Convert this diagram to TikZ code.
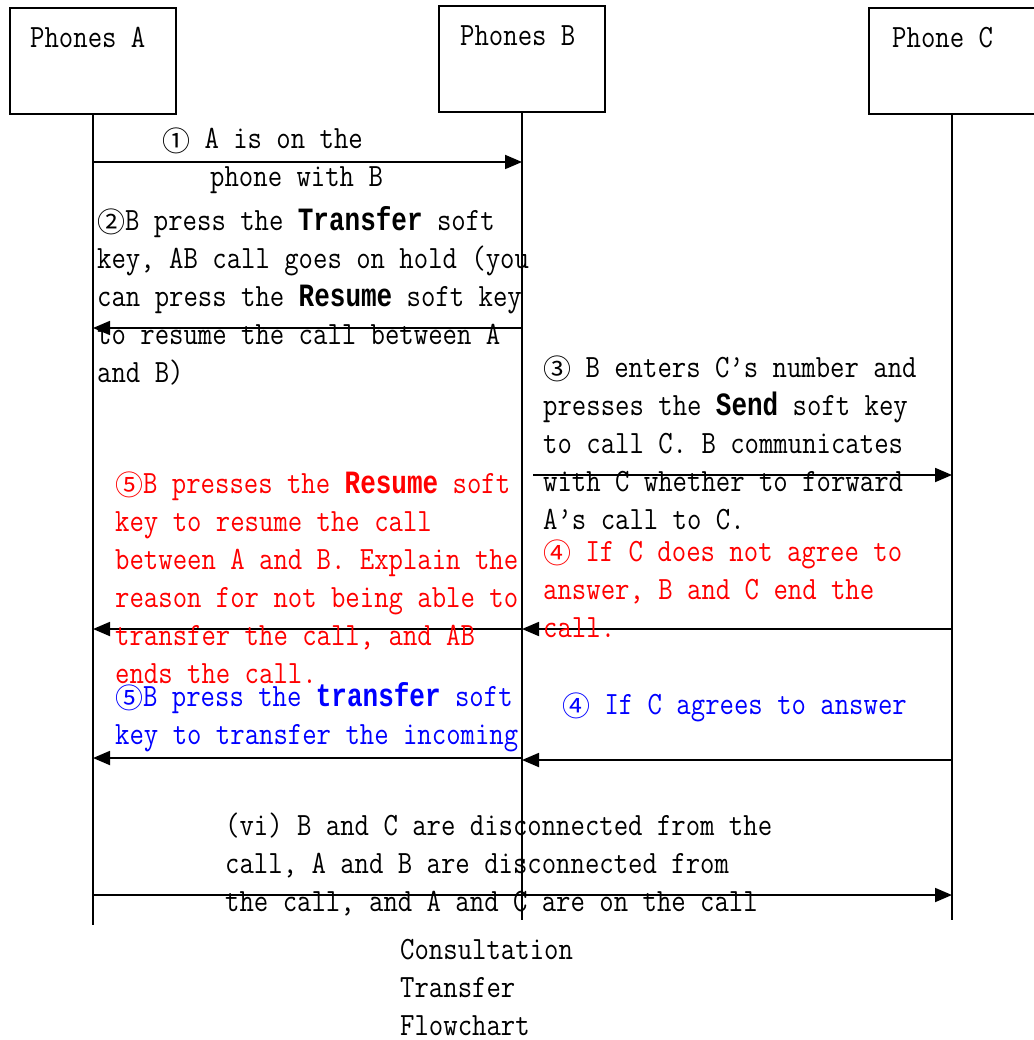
\documentclass[tikz,border=0pt]{standalone}
\usepackage{fontspec}
\newfontfamily\notefont{lmmono12-regular.otf}[FakeStretch=0.86]
\newfontfamily\circfont{Noto Sans CJK SC}[Scale=0.86]
\newfontfamily\keyfont{Liberation Mono}[FakeStretch=0.8]
\usetikzlibrary{arrows.meta}
\newcommand{\cnum}[1]{\raisebox{-2.5pt}{\circfont #1}}
\newcommand{\softkey}[1]{{\keyfont\bfseries #1}}

\tikzset{
  phone/.style={draw,line width=1.8pt,minimum width=166pt,minimum height=106pt,inner sep=0pt},
  life/.style={line width=1.8pt},
  msg/.style={line width=1.8pt,-{Triangle[length=17pt,width=14pt]}},
  note/.style={anchor=base west,inner sep=0pt,align=left},
}

\begin{document}
\begin{tikzpicture}[x=1pt,y=-1pt,font=\notefont\fontsize{32.5}{38}\selectfont\frenchspacing]
  \useasboundingbox (0,0) rectangle (1033,1040);
  % phones and lifelines
  \node[phone] (pa) at (93,61) {};
  \node[phone] (pb) at (522,59) {};
  \node[phone] (pc) at (952,61) {};
  \node[note] (pa-t) at (30,48) {Phones A};
  \node[note] (pb-t) at (460,46) {Phones B};
  \node[note] (pc-t) at (892,48) {Phone C};
  \coordinate (a-end) at (93,925);
  \coordinate (b-end) at (522,920);
  \coordinate (c-end) at (952,920);
  \draw[life] (pa.south) -- (a-end);
  \draw[life] (pb.south) -- (b-end);
  \draw[life] (pc.south) -- (c-end);

  % messages
  \draw[msg] (pa.south |- 0,162) -- (pb.south |- 0,162);
  \draw[msg] (pb.south |- 0,328) -- (pa.south |- 0,328);
  \draw[msg] ([xshift=11pt]pb.south |- 0,475) -- (pc.south |- 0,475);
  \draw[msg] (pc.south |- 0,629) -- (pb.south |- 0,629);
  \draw[msg] (pb.south |- 0,629) -- (pa.south |- 0,629);
  \draw[msg] (pc.south |- 0,760) -- (pb.south |- 0,760);
  \draw[msg] (pb.south |- 0,758) -- (pa.south |- 0,758);
  \draw[msg] (pa.south |- 0,895) -- (pc.south |- 0,895);

  % step texts (base = last line)
  \node[note] (t1) at (162,187) {\cnum{①} A is on the\\\hspace*{48pt}phone with B};
  \node[note] (t2) at (97,382) {\cnum{②}B press the \softkey{Transfer} soft\\key, AB call goes on hold (you\\can press the \softkey{Resume} soft key\\to resume the call between A\\and B)};
  \node[note] (t3) at (543,529) {\cnum{③} B enters C’s number and\\presses the \softkey{Send} soft key\\to call C. B communicates\\with C whether to forward\\A’s call to C.};
  \node[note,text=red] (t4) at (543,637) {\cnum{④} If C does not agree to\\answer, B and C end the\\call.};
  \node[note,text=red] (t5) at (115,683) {\cnum{⑤}B presses the \softkey{Resume} soft\\key to resume the call\\between A and B. Explain the\\reason for not being able to\\transfer the call, and AB\\ends the call.};
  \node[note,text=blue] (t6) at (562,714) {\cnum{④} If C agrees to answer};
  \node[note,text=blue] (t7) at (115,744) {\cnum{⑤}B press the \softkey{transfer} soft\\key to transfer the incoming};
  \node[note] (t8) at (225,911) {(vi) B and C are disconnected from the\\call, A and B are disconnected from\\the call, and A and C are on the call};
  \node[note] (cap) at (400,1035) {Consultation\\Transfer\\Flowchart};
\end{tikzpicture}
\end{document}
